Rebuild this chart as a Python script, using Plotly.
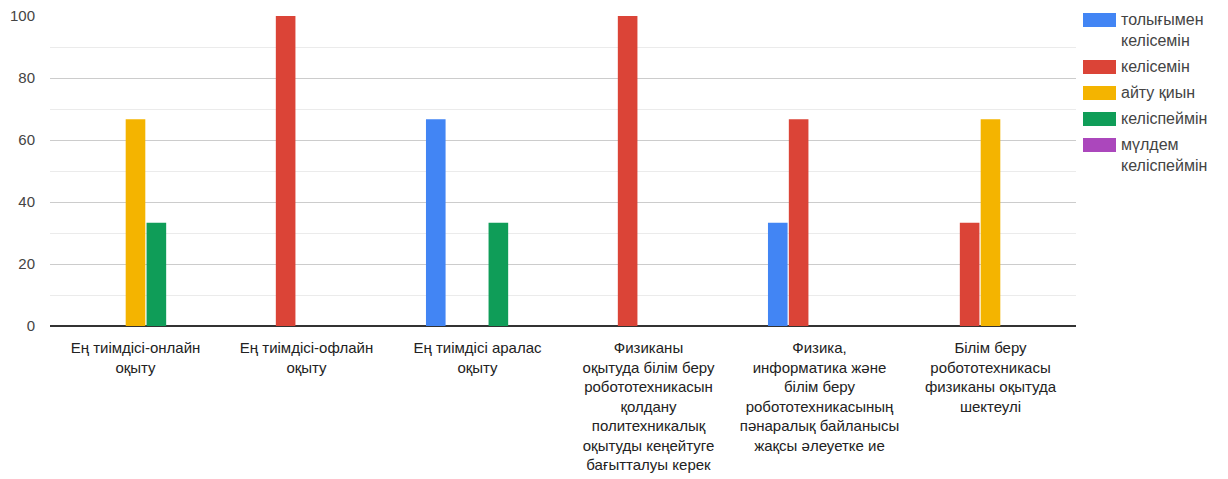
import plotly.graph_objects as go

categories = [
    "Ең тиімдісі-онлайн<br>оқыту",
    "Ең тиімдісі-офлайн<br>оқыту",
    "Ең тиімдісі аралас<br>оқыту",
    "Физиканы<br>оқытуда білім беру<br>робототехникасын<br>қолдану<br>политехникалық<br>оқытуды кеңейтуге<br>бағытталуы керек",
    "Физика,<br>информатика және<br>білім беру<br>робототехникасының<br>пәнаралық байланысы<br>жақсы әлеуетке ие",
    "Білім беру<br>робототехникасы<br>физиканы оқытуда<br>шектеулі",
]

series_names = [
    "толығымен<br>келісемін",
    "келісемін",
    "айту қиын",
    "келіспеймін",
    "мүлдем<br>келіспеймін",
]

fully_agree = [0, 0, 66.67, 0, 33.33, 0]
agree = [0, 100, 0, 100, 66.67, 33.33]
hard_to_say = [66.67, 0, 0, 0, 0, 66.67]
disagree = [33.33, 0, 33.33, 0, 0, 0]
strongly_disagree = [0, 0, 0, 0, 0, 0]

series_values = [fully_agree, agree, hard_to_say, disagree, strongly_disagree]
colors = ["#4285F4", "#DB4437", "#F4B400", "#0F9D58", "#AB47BC"]

y_ticks = [0, 20, 40, 60, 80, 100]

W, H = 1228, 479
ML, MR, MT, MB = 50, 152, 16, 153
PW, PH = W - ML - MR, H - MT - MB

FONT = "Liberation Sans, Arial, sans-serif"

fig = go.Figure()
for name, vals, col in zip(series_names, series_values, colors):
    fig.add_trace(go.Bar(
        x=categories, y=vals, name=name.replace("<br>", " "),
        marker=dict(color=col, line=dict(width=0)),
        showlegend=False,
    ))

# custom legend (wide swatches like the original)
def px_to_paper(px, py):
    return (px - ML) / PW, (H - MB - py) / PH

shapes = []
annotations = []
top = 13
for name, col in zip(series_names, colors):
    lines = name.count("<br>") + 1
    x0, y0 = px_to_paper(1083, top)
    x1, y1 = px_to_paper(1116, top + 14)
    shapes.append(dict(type="rect", xref="paper", yref="paper",
                       x0=x0, x1=x1, y0=y1, y1=y0,
                       fillcolor=col, line=dict(width=0)))
    tx, ty = px_to_paper(1119, top - 4)
    annotations.append(dict(text=name, xref="paper", yref="paper",
                            x=tx, y=ty, xanchor="left", yanchor="top",
                            showarrow=False, align="left",
                            font=dict(family=FONT, size=16, color="#444")))
    top += 26 + 21 * (lines - 1)

fig.update_layout(
    width=W, height=H,
    margin=dict(l=ML, r=MR, t=MT, b=MB),
    paper_bgcolor="white", plot_bgcolor="white",
    font=dict(family=FONT, size=15, color="#333"),
    barmode="group",
    bargap=0.39,
    bargroupgap=0.06,
    showlegend=False,
    shapes=shapes,
    annotations=annotations,
)

fig.update_xaxes(
    automargin=False,
    showgrid=False,
    showline=True, linecolor="#333", linewidth=1,
    ticks="", tickfont=dict(family=FONT, size=15, color="#222"),
    tickangle=0, ticklabelstandoff=8,
)
fig.update_yaxes(
    automargin=False,
    range=[0, 100],
    tickvals=y_ticks,
    showgrid=True, gridcolor="#cccccc", gridwidth=1,
    minor=dict(dtick=10, tick0=0, showgrid=True, gridcolor="#ebebeb", gridwidth=1),
    zeroline=True, zerolinecolor="#333", zerolinewidth=1.5,
    tickfont=dict(family=FONT, size=15, color="#444"),
    ticks="", ticklabelstandoff=14,
)

fig.write_html(
    "out.html",
    config={"displayModeBar": False},
    post_script="document.body.style.margin='0';document.body.style.overflow='hidden';",
)
